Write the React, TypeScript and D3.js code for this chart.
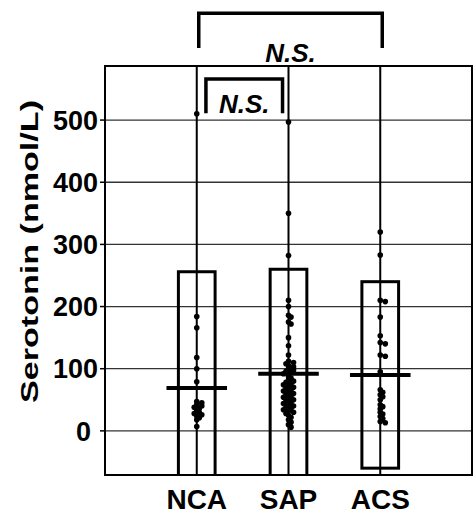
import React from 'react';
import * as d3 from 'd3';

// groups on the x axis
const categories = ['NCA', 'SAP', 'ACS'];

// individual serotonin values (nmol/L)
const ncaValues = [510, 184, 166, 118, 100, 79, 47, 45, 42, 40, 38, 36, 33, 30, 28, 26, 24, 21, 18, 7];
const sapValues = [
  497, 350, 282, 210, 200, 186, 183, 175, 172, 150, 137, 122, 112, 110, 108, 105, 103, 100, 98, 96,
  94, 92, 88, 85, 82, 80, 78, 76, 74, 72, 70, 68, 66, 64, 62, 60, 58, 56, 54, 52, 50, 48, 46, 44,
  42, 40, 38, 36, 34, 32, 30, 28, 25, 22, 18, 14, 10, 6,
];
const acsValues = [320, 283, 210, 208, 183, 153, 142, 140, 122, 120, 95, 66, 62, 58, 55, 50, 42, 39, 35, 30, 27, 23, 20, 15, 13];

// mean line and mean +/- SD box per group
const means = [69, 92, 90];
const boxHigh = [256, 260, 240];
const boxLow = [-118, -76, -60];

const yTicks = [0, 100, 200, 300, 400, 500];

// significance brackets
const brackets = [
  { from: 0, to: 2, label: 'N.S.' },
  { from: 0, to: 1, label: 'N.S.' },
];

const W = 473;
const H = 514;
const margin = { top: 66, right: 1, bottom: 39, left: 105 };

// simple beeswarm so the dots of one group do not sit on top of each other
function swarm(values: number[], y: (v: number) => number, r: number) {
  const placed: { v: number; dx: number; py: number }[] = [];
  const sorted = [...values].sort((a, b) => b - a);
  sorted.forEach((v) => {
    const py = y(v);
    let k = 0;
    let dx = 0;
    for (;;) {
      dx = k === 0 ? 0 : (k % 2 === 1 ? 1 : -1) * Math.ceil(k / 2) * r * 0.9;
      const hit = placed.some((p) => {
        const ddx = p.dx - dx;
        const ddy = p.py - py;
        return ddx * ddx + ddy * ddy < (r * 1.1) * (r * 1.1);
      });
      if (!hit) break;
      k++;
    }
    placed.push({ v, dx, py });
  });
  return placed;
}

const App = () => {
  const x = d3.scaleLinear().domain([0, 4]).range([margin.left, W - margin.right]);
  const y = d3.scaleLinear().domain([-71, 587]).range([H - margin.bottom, margin.top]);

  const top = y.range()[1];
  const bottom = y.range()[0];
  const left = x.range()[0];
  const right = x.range()[1];
  const groups = [ncaValues, sapValues, acsValues];
  const r = 2.8;
  const boxHalf = 0.2;
  const meanHalf = 0.33;

  const font = "'Liberation Sans', Arial, sans-serif";

  return (
    <svg width={W} height={H} style={{ position: 'absolute', left: 0, top: 0, background: '#fff' }}>
      <defs>
        <clipPath id="plot-clip">
          <rect x={left} y={top} width={right - left} height={bottom - top} />
        </clipPath>
      </defs>

      {/* horizontal gridlines */}
      {yTicks.map((t) => (
        <line key={t} x1={left} x2={right} y1={y(t)} y2={y(t)} stroke="#333" strokeWidth={1.3} />
      ))}

      {/* vertical lines through each group */}
      {categories.map((c, i) => (
        <line key={c} x1={x(i + 1)} x2={x(i + 1)} y1={top} y2={bottom} stroke="#000" strokeWidth={2} />
      ))}

      {/* plot frame */}
      <rect x={left} y={top} width={right - left} height={bottom - top} fill="none" stroke="#000" strokeWidth={2} />

      {/* mean +/- SD boxes */}
      <g clipPath="url(#plot-clip)">
        {categories.map((c, i) => (
          <rect
            key={c}
            x={x(i + 1 - boxHalf)}
            y={y(boxHigh[i])}
            width={x(i + 1 + boxHalf) - x(i + 1 - boxHalf)}
            height={y(boxLow[i]) - y(boxHigh[i])}
            fill="none"
            stroke="#000"
            strokeWidth={3}
          />
        ))}
      </g>

      {/* dots */}
      {groups.map((vals, i) =>
        swarm(vals, y, r).map((p, j) => (
          <circle key={`${i}-${j}`} cx={x(i + 1) + p.dx} cy={p.py} r={r} fill="#000" />
        ))
      )}

      {/* mean lines */}
      {categories.map((c, i) => (
        <line
          key={c}
          x1={x(i + 1 - meanHalf)}
          x2={x(i + 1 + meanHalf)}
          y1={y(means[i])}
          y2={y(means[i])}
          stroke="#000"
          strokeWidth={4}
        />
      ))}

      {/* y axis ticks and labels */}
      {yTicks.map((t) => (
        <g key={t}>
          <line x1={left - 5} x2={left} y1={y(t)} y2={y(t)} stroke="#000" strokeWidth={1.5} />
          <text
            x={t === 0 ? left - 14 : left - 7}
            y={y(t)}
            dy="0.36em"
            textAnchor="end"
            fontFamily={font}
            fontWeight="bold"
            fontSize={27}
            textLength={String(t).length * 15}
            lengthAdjust="spacingAndGlyphs"
            fill="#000"
          >
            {t}
          </text>
        </g>
      ))}

      {/* y axis title */}
      <text
        transform={`translate(38, ${(100 + 403) / 2}) rotate(-90)`}
        textAnchor="middle"
        fontFamily={font}
        fontWeight="bold"
        fontSize={24}
        textLength={303}
        lengthAdjust="spacingAndGlyphs"
        fill="#000"
      >
        Serotonin (nmol/L)
      </text>

      {/* x labels */}
      {categories.map((c, i) => (
        <text
          key={c}
          x={x(i + 1)}
          y={509}
          textAnchor="middle"
          fontFamily={font}
          fontWeight="bold"
          fontSize={28}
          fill="#000"
        >
          {c}
        </text>
      ))}

      {/* significance brackets */}
      {(() => {
        const big = brackets[0];
        const small = brackets[1];
        const bx1 = x(big.from + 1) + 2;
        const bx2 = x(big.to + 1) + 2;
        const sx1 = x(small.from + 1.1);
        const sx2 = x(small.to + 0.935);
        return (
          <g fill="none" stroke="#000" strokeWidth={3.5}>
            <path d={`M${bx1},${y(616)} V${y(672)} H${bx2} V${y(616)}`} />
            <path d={`M${sx1},${y(511)} V${y(566)} H${sx2} V${y(511)}`} />
            <text
              x={(bx1 + bx2) / 2}
              y={y(593)}
              textAnchor="middle"
              fontFamily={font}
              fontWeight="bold"
              fontStyle="italic"
              fontSize={26}
              fill="#000"
              stroke="none"
            >
              {big.label}
            </text>
            <text
              x={(sx1 + sx2) / 2}
              y={y(511)}
              textAnchor="middle"
              fontFamily={font}
              fontWeight="bold"
              fontStyle="italic"
              fontSize={26}
              fill="#000"
              stroke="none"
            >
              {small.label}
            </text>
          </g>
        );
      })()}
    </svg>
  );
};

export default App;
